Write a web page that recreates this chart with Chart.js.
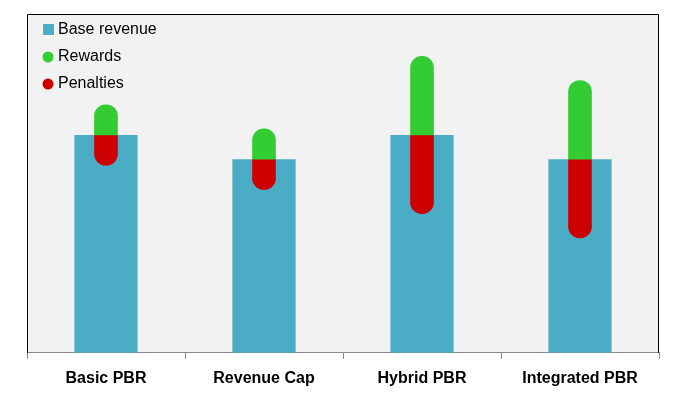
<!DOCTYPE html>
<html>
<head>
<meta charset="utf-8">
<script src="https://cdn.jsdelivr.net/npm/chart.js@4"></script>
<style>
  html, body { margin: 0; padding: 0; background: #ffffff; }
  #wrap { width: 684px; height: 394px; position: relative; }
</style>
</head>
<body>
<div id="wrap"><canvas id="chart" width="684" height="394"></canvas></div>
<script>
// chart data
const categories = ['Basic PBR', 'Revenue Cap', 'Hybrid PBR', 'Integrated PBR'];
const baseRevenue = [9, 8, 9, 8];
const rewards = [1.25, 1.25, 3.25, 3.25];
const penalties = [1.25, 1.25, 3.25, 3.25];
const legendLabels = ['Base revenue', 'Rewards', 'Penalties'];

const teal = '#4bacc6';
const green = '#33cc33';
const red = '#cc0000';

// floating bars sitting on top of the base bar
const rewardBars = baseRevenue.map((b, i) => [b, b + rewards[i]]);
const penaltyBars = baseRevenue.map((b, i) => [b, b - penalties[i]]);

// grey plot background + black frame
const plotFrame = {
    id: 'plotFrame',
    beforeDraw(chart) {
        const { ctx, chartArea: a } = chart;
        ctx.save();
        ctx.fillStyle = '#f2f2f2';
        ctx.fillRect(a.left, a.top, a.right - a.left, a.bottom - a.top);
        ctx.restore();
    },
    afterDraw(chart) {
        const { ctx, chartArea: a } = chart;
        ctx.save();
        ctx.strokeStyle = '#000000';
        ctx.lineWidth = 1;
        ctx.beginPath();
        ctx.moveTo(a.left + 0.5, a.bottom);
        ctx.lineTo(a.left + 0.5, a.top + 0.5);
        ctx.lineTo(a.right - 0.5, a.top + 0.5);
        ctx.lineTo(a.right - 0.5, a.bottom);
        ctx.stroke();
        ctx.restore();
    }
};

// legend drawn inside the plot, top left
const innerLegend = {
    id: 'innerLegend',
    afterDraw(chart) {
        const { ctx, chartArea: a } = chart;
        const colors = [teal, green, red];
        ctx.save();
        ctx.font = '16px "Liberation Sans", Arial, sans-serif';
        ctx.textBaseline = 'middle';
        legendLabels.forEach((label, i) => {
            const cy = a.top + 16 + i * 27;
            const cx = a.left + 21;
            ctx.fillStyle = colors[i];
            if (i === 0) {
                ctx.fillRect(cx - 5, cy - 6, 11, 11);
            } else {
                ctx.beginPath();
                ctx.arc(cx, cy, 5.5, 0, Math.PI * 2);
                ctx.fill();
            }
            ctx.fillStyle = '#000000';
            ctx.fillText(label, cx + 10, cy);
        });
        ctx.restore();
    }
};

const ctx = document.getElementById('chart').getContext('2d');
new Chart(ctx, {
    type: 'bar',
    data: {
        labels: categories,
        datasets: [
            {
                label: legendLabels[0],
                data: baseRevenue,
                backgroundColor: teal,
                barPercentage: 0.4,
                categoryPercentage: 1,
                order: 2
            },
            {
                label: legendLabels[1],
                data: rewardBars,
                backgroundColor: green,
                barThickness: 23,
                borderSkipped: false,
                borderRadius: { topLeft: 12, topRight: 12, bottomLeft: 0, bottomRight: 0 },
                order: 1
            },
            {
                label: legendLabels[2],
                data: penaltyBars,
                backgroundColor: red,
                barThickness: 23,
                borderSkipped: false,
                borderRadius: { topLeft: 0, topRight: 0, bottomLeft: 12, bottomRight: 12 },
                order: 1
            }
        ]
    },
    options: {
        responsive: false,
        animation: false,
        layout: { padding: { left: 27, right: 25, top: 14, bottom: -4 } },
        plugins: {
            legend: { display: false },
            tooltip: { enabled: false }
        },
        scales: {
            x: {
                stacked: true,
                grid: {
                    display: true,
                    drawOnChartArea: false,
                    drawTicks: true,
                    tickLength: 6,
                    color: '#888888'
                },
                border: { display: true, color: '#888888' },
                ticks: {
                    color: '#000000',
                    padding: 10,
                    maxRotation: 0,
                    autoSkip: false,
                    font: { family: '"Liberation Sans", Arial, sans-serif', size: 16, weight: 'bold' }
                }
            },
            y: {
                display: false,
                min: 0,
                max: 14
            }
        }
    },
    plugins: [plotFrame, innerLegend]
});
</script>
</body>
</html>
